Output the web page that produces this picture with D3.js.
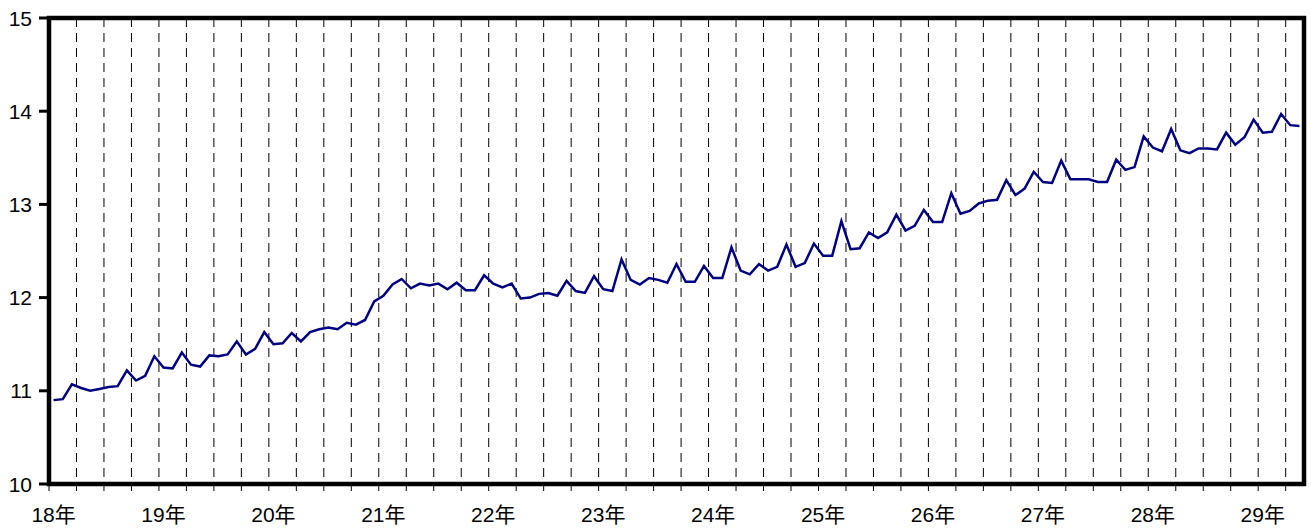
<!DOCTYPE html>
<html>
<head>
<meta charset="utf-8">
<script src="https://cdn.jsdelivr.net/npm/d3@7"></script>
<style>
    body { margin: 0; background: #fff; }
    text { font-family: "Liberation Sans", "Noto Sans CJK JP", sans-serif; font-size: 21px; fill: #000; }
</style>
</head>
<body>
<svg width="1311" height="528"></svg>
<script>
// monthly values, 18年1月 .. 29年5月
const values = [
    10.90, 10.91, 11.07, 11.03, 11.00, 11.02, 11.04, 11.05, 11.22, 11.11, 11.16, 11.37,
    11.25, 11.24, 11.41, 11.28, 11.26, 11.38, 11.37, 11.39, 11.53, 11.39, 11.45, 11.63,
    11.50, 11.51, 11.62, 11.53, 11.63, 11.66, 11.68, 11.66, 11.73, 11.71, 11.76, 11.96,
    12.02, 12.14, 12.20, 12.10, 12.15, 12.13, 12.15, 12.09, 12.16, 12.08, 12.08, 12.24,
    12.15, 12.11, 12.15, 11.99, 12.00, 12.04, 12.05, 12.02, 12.18, 12.07, 12.05, 12.23,
    12.09, 12.07, 12.41, 12.19, 12.14, 12.21, 12.19, 12.16, 12.36, 12.17, 12.17, 12.34,
    12.21, 12.21, 12.54, 12.29, 12.25, 12.36, 12.29, 12.33, 12.57, 12.33, 12.37, 12.58,
    12.45, 12.45, 12.82, 12.52, 12.53, 12.70, 12.64, 12.70, 12.89, 12.72, 12.77, 12.94,
    12.81, 12.81, 13.12, 12.90, 12.93, 13.01, 13.04, 13.05, 13.26, 13.10, 13.17, 13.35,
    13.24, 13.23, 13.47, 13.27, 13.27, 13.27, 13.24, 13.24, 13.48, 13.37, 13.40, 13.73,
    13.61, 13.57, 13.81, 13.58, 13.55, 13.60, 13.60, 13.59, 13.77, 13.64, 13.72, 13.91,
    13.77, 13.78, 13.97, 13.85, 13.84
];
const yearLabels = ["18年", "19年", "20年", "21年", "22年", "23年", "24年", "25年", "26年", "27年", "28年", "29年"];
const yTicks = [10, 11, 12, 13, 14, 15];

const svg = d3.select("svg");
const plotLeft = 49, plotRight = 1304, plotTop = 18, plotBottom = 484;

const x = d3.scaleBand()
    .domain(d3.range(values.length))
    .range([plotLeft, plotRight]);
const y = d3.scaleLinear()
    .domain([10, 15])
    .range([plotBottom, plotTop]);

// quarter boundaries
const quarters = d3.range(0, values.length, 3);

svg.append("g")
    .selectAll("line")
    .data(quarters.slice(1))
    .enter()
    .append("line")
    .attr("x1", d => x(d))
    .attr("x2", d => x(d))
    .attr("y1", plotTop)
    .attr("y2", plotBottom)
    .attr("stroke", "#000")
    .attr("stroke-width", 1)
    .attr("stroke-dasharray", "9,6");

// x ticks
svg.append("g")
    .selectAll("line")
    .data(quarters)
    .enter()
    .append("line")
    .attr("x1", d => x(d))
    .attr("x2", d => x(d))
    .attr("y1", plotBottom)
    .attr("y2", plotBottom + 7)
    .attr("stroke", "#000")
    .attr("stroke-width", 1);

svg.append("g")
    .selectAll("text")
    .data(yearLabels)
    .enter()
    .append("text")
    .attr("x", (d, i) => x(i * 12) + x.bandwidth() / 2)
    .attr("y", 522)
    .attr("text-anchor", "middle")
    .text(d => d);

// y ticks
svg.append("g")
    .selectAll("line")
    .data(yTicks)
    .enter()
    .append("line")
    .attr("x1", plotLeft - 10)
    .attr("x2", plotLeft)
    .attr("y1", d => y(d))
    .attr("y2", d => y(d))
    .attr("stroke", "#000")
    .attr("stroke-width", 3);

svg.append("g")
    .selectAll("text")
    .data(yTicks)
    .enter()
    .append("text")
    .attr("x", 32)
    .attr("y", d => y(d))
    .attr("dy", "0.36em")
    .attr("text-anchor", "end")
    .text(d => d);

// series
const line = d3.line()
    .x((d, i) => x(i) + x.bandwidth() / 2)
    .y(d => y(d));

svg.append("path")
    .datum(values)
    .attr("d", line)
    .attr("fill", "none")
    .attr("stroke", "#000080")
    .attr("stroke-width", 2.5);

// frame
svg.append("rect")
    .attr("x", plotLeft)
    .attr("y", plotTop)
    .attr("width", plotRight - plotLeft)
    .attr("height", plotBottom - plotTop)
    .attr("fill", "none")
    .attr("stroke", "#000")
    .attr("stroke-width", 4.5);
</script>
</body>
</html>
